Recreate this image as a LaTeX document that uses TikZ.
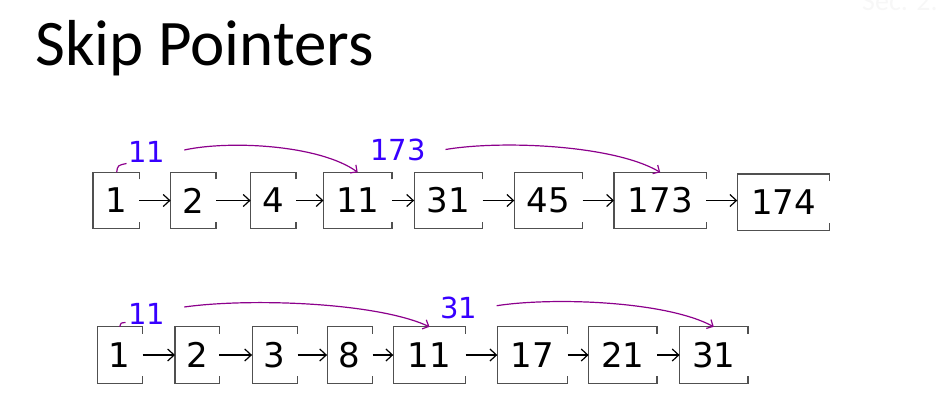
\documentclass[tikz,border=0pt]{standalone}
\usepackage{fontspec}
\setmainfont{DejaVu Sans}
\newfontfamily\titlefont{Carlito}
\usetikzlibrary{arrows.meta}
\definecolor{lblblue}{RGB}{55,0,255}
\definecolor{skippurple}{RGB}{140,0,140}
\definecolor{boxgray}{RGB}{80,80,80}
\tikzset{
  cell/.style={inner sep=0pt, minimum height=56pt, font=\fontsize{34}{36}\selectfont, text=black},
  cellline/.style={draw=boxgray, line width=1.2pt},
  nextarrow/.style={draw=black, line width=1.2pt, -{Straight Barb[length=6.5pt,width=12pt]}},
  skiparrow/.style={draw=skippurple, line width=1.2pt, -{Straight Barb[length=5pt,width=10pt]}},
  skiphook/.style={draw=skippurple, line width=1.2pt},
  skiplabel/.style={inner sep=0pt, anchor=base west, text=lblblue, font=\fontsize{29}{30}\selectfont},
}
\newcommand{\cellframe}[1]{%
  \draw[cellline] ([yshift=-7pt]#1.north east) -- (#1.north east) -- (#1.north west)
    -- (#1.south west) -- (#1.south east) -- ([yshift=7pt]#1.south east);}
\begin{document}
\begin{tikzpicture}[x=1pt,y=-1pt]
\useasboundingbox (0,0) rectangle (936,410);
% title
\node[anchor=base west, inner sep=0pt, font=\titlefont\fontsize{65}{78}\selectfont] (title) at (35,65) {Skip Pointers};
\node[anchor=base west, inner sep=0pt, text=black!3, font=\titlefont\fontsize{28}{30}\selectfont] (sec) at (862,10) {Sec. 2.3};
% row 1
\node[cell, minimum width=46pt] (a1) at (116.2,200.5) {1};
\node[cell, minimum width=45pt] (a2) at (193.3,200.5) {2};
\node[cell, minimum width=45pt] (a3) at (273.3,200.5) {4};
\node[cell, minimum width=68pt] (a4) at (357.7,200.5) {11};
\node[cell, minimum width=68pt] (a5) at (448.3,200.5) {31};
\node[cell, minimum width=68pt] (a6) at (548.5,200.5) {45};
\node[cell, minimum width=92pt] (a7) at (660.2,200.5) {173};
\node[cell, minimum width=92pt] (a8) at (783.5,202.2) {174};
\foreach \n in {a1,a2,a3,a4,a5,a6,a7,a8}{\cellframe{\n}}
\draw[nextarrow] (a1.east) -- (a2.west);
\draw[nextarrow] (a2.east) -- (a3.west);
\draw[nextarrow] (a3.east) -- (a4.west);
\draw[nextarrow] (a4.east) -- (a5.west);
\draw[nextarrow] (a5.east) -- (a6.west);
\draw[nextarrow] (a6.east) -- (a7.west);
\draw[nextarrow] (a7.east) -- (a7.east -| a8.west);
% row 1 skip pointers
\node[skiplabel] (la1) at (128,162.3) {11};
\node[skiplabel] (la2) at (370,160.7) {173};
\coordinate (ha) at (126.5,163.5);
\draw[skiphook] ([xshift=0.5pt]a1.north) .. controls +(1,-7) .. (ha);
\coordinate (sa1) at (184.3,150);
\coordinate (sa2) at (445.5,149.5);
\draw[skiparrow] (sa1) .. controls (230,140) and (320,145) .. (a4.north);
\draw[skiparrow] (sa2) .. controls (502,140) and (614,145) .. (a7.north);
% row 2
\node[cell, minimum width=45pt] (b1) at (119.8,355) {1};
\node[cell, minimum width=44pt] (b2) at (197.2,355) {2};
\node[cell, minimum width=45pt] (b3) at (274.8,355) {3};
\node[cell, minimum width=45pt] (b4) at (349.8,355) {8};
\node[cell, minimum width=72pt] (b5) at (429.5,355) {11};
\node[cell, minimum width=70pt] (b6) at (532.5,355) {17};
\node[cell, minimum width=68pt] (b7) at (622.8,355) {21};
\node[cell, minimum width=68pt] (b8) at (713.8,355) {31};
\foreach \n in {b1,b2,b3,b4,b5,b6,b7,b8}{\cellframe{\n}}
\draw[nextarrow] (b1.east) -- (b2.west);
\draw[nextarrow] (b2.east) -- (b3.west);
\draw[nextarrow] (b3.east) -- (b4.west);
\draw[nextarrow] (b4.east) -- (b5.west);
\draw[nextarrow] (b5.east) -- (b6.west);
\draw[nextarrow] (b6.east) -- (b7.west);
\draw[nextarrow] (b7.east) -- (b8.west);
% row 2 skip pointers
\node[skiplabel] (lb1) at (128,324.3) {11};
\node[skiplabel] (lb2) at (440,318.3) {31};
\coordinate (hb) at (125.5,322.5);
\draw[skiphook] (b1.north) .. controls +(1,-4) .. (hb);
\coordinate (sb1) at (184.3,307);
\coordinate (sb2) at (496.7,305.7);
\draw[skiparrow] (sb1) .. controls (248,298) and (376,302) .. (b5.north);
\draw[skiparrow] (sb2) .. controls (553,297) and (666,301) .. (b8.north);
\end{tikzpicture}
\end{document}
